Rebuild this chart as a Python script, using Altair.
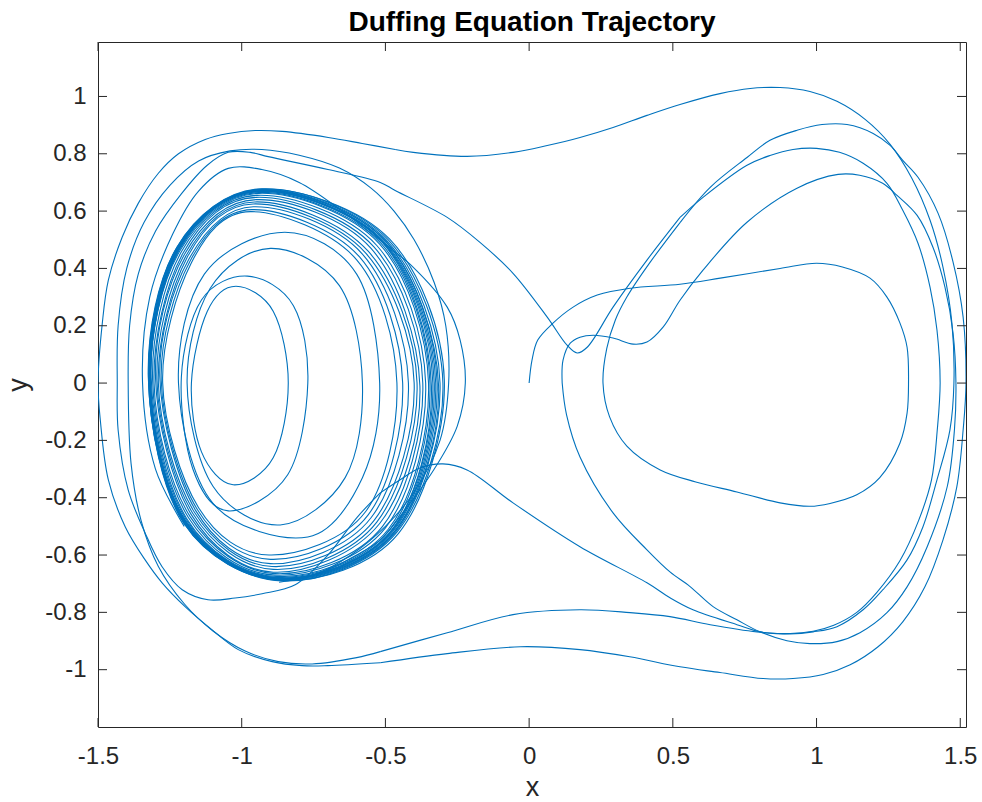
import altair as alt
import pandas as pd

# ---------------------------------------------------------------- data
# Open stretches of the trajectory (x, y=dx/dt), listed in time order.
start_right = [
    (0.0, 0.0), (0.01, 0.08), (0.03, 0.15), (0.083, 0.209), (0.153, 0.265), (0.237, 0.307),
    (0.351, 0.331), (0.525, 0.345), (0.665, 0.366), (0.873, 0.40), (1.0, 0.418), (1.09, 0.405),
    (1.186, 0.366), (1.245, 0.30), (1.29, 0.21), (1.315, 0.125), (1.32, 0.0), (1.315, -0.105),
    (1.29, -0.21), (1.22, -0.33), (1.14, -0.39), (1.047, -0.42), (0.977, -0.43), (0.873, -0.418),
    (0.723, -0.38), (0.58, -0.345), (0.456, -0.303), (0.34, -0.22), (0.28, -0.118), (0.257, 0.0),
    (0.27, 0.12), (0.3, 0.22), (0.34, 0.3), (0.42, 0.42), (0.525, 0.56),
]
right_over_1 = [
    (0.525, 0.56), (0.63, 0.683), (0.758, 0.787), (0.838, 0.847), (0.932, 0.882), (1.019, 0.902),
    (1.106, 0.902), (1.197, 0.871), (1.256, 0.829), (1.30, 0.777), (1.353, 0.718), (1.423, 0.592),
    (1.475, 0.422), (1.51, 0.23), (1.52, 0.0), (1.51, -0.164), (1.488, -0.362), (1.44, -0.547),
    (1.377, -0.711), (1.30, -0.833), (1.214, -0.92), (1.117, -0.983), (1.023, -1.017),
    (0.918, -1.031), (0.814, -1.031), (0.664, -1.01), (0.525, -0.99), (0.35, -0.955),
    (0.177, -0.93), (-0.03, -0.92), (-0.285, -0.944), (-0.518, -0.976),
]
left_over_1 = [
    (-0.518, -0.976), (-0.7, -0.986), (-0.79, -0.986), (-0.894, -0.972), (-1.012, -0.93),
    (-1.103, -0.861), (-1.197, -0.78), (-1.277, -0.697), (-1.336, -0.617), (-1.405, -0.502),
    (-1.464, -0.338), (-1.492, -0.129), (-1.5, 0.0), (-1.485, 0.209), (-1.464, 0.359),
    (-1.416, 0.509), (-1.36, 0.627), (-1.29, 0.732), (-1.22, 0.80), (-1.127, 0.85),
    (-1.047, 0.871), (-0.953, 0.881), (-0.859, 0.878), (-0.699, 0.857), (-0.581, 0.836),
    (-0.466, 0.815),
]
top_cross = [
    (-0.466, 0.815), (-0.403, 0.805), (-0.216, 0.791), (-0.056, 0.805), (0.063, 0.829),
    (0.177, 0.857), (0.292, 0.892), (0.41, 0.934), (0.525, 0.972), (0.664, 1.01), (0.769, 1.028),
    (0.873, 1.031), (0.977, 1.017), (1.071, 0.983), (1.169, 0.92), (1.256, 0.833), (1.332, 0.714),
    (1.395, 0.568), (1.44, 0.404), (1.471, 0.209), (1.478, 0.0), (1.464, -0.164), (1.419, -0.338),
    (1.37, -0.502), (1.315, -0.617), (1.231, -0.721), (1.162, -0.791), (1.071, -0.85),
    (0.988, -0.868), (0.908, -0.875), (0.793, -0.868), (0.63, -0.843), (0.49, -0.815),
    (0.351, -0.801), (0.177, -0.791), (-0.056, -0.808), (-0.285, -0.871), (-0.518, -0.937),
]
left_over_2 = [
    (-0.518, -0.937), (-0.6, -0.958), (-0.755, -0.98), (-0.873, -0.972), (-0.988, -0.935),
    (-1.1, -0.865), (-1.2, -0.77), (-1.29, -0.64), (-1.35, -0.48), (-1.385, -0.28), (-1.395, 0.0),
    (-1.39, 0.2), (-1.36, 0.38), (-1.3, 0.53), (-1.21, 0.66), (-1.12, 0.76), (-1.047, 0.805),
    (-0.97, 0.805), (-0.908, 0.79), (-0.7, 0.745), (-0.518, 0.70), (-0.466, 0.672),
    (-0.285, 0.578), (-0.17, 0.49), (-0.056, 0.383), (0.063, 0.23), (0.132, 0.132),
    (0.167, 0.105), (0.202, 0.125), (0.292, 0.265), (0.41, 0.429), (0.525, 0.578),
]
right_over_2 = [
    (0.525, 0.578), (0.605, 0.648), (0.758, 0.76), (0.838, 0.794), (0.918, 0.815), (1.0, 0.819),
    (1.08, 0.805), (1.162, 0.767), (1.245, 0.697), (1.30, 0.603), (1.353, 0.488), (1.395, 0.334),
    (1.419, 0.185), (1.43, 0.0), (1.42, -0.164), (1.4, -0.338), (1.355, -0.48), (1.29, -0.62),
    (1.21, -0.73), (1.14, -0.8), (1.06, -0.845), (0.988, -0.866), (0.908, -0.874),
    (0.803, -0.868), (0.723, -0.843), (0.57, -0.791), (0.49, -0.749), (0.41, -0.697),
    (0.177, -0.571), (-0.056, -0.418), (-0.216, -0.303), (-0.3, -0.282), (-0.38, -0.296),
    (-0.45, -0.338), (-0.518, -0.383),
]
left_over_3 = [
    (-0.518, -0.383), (-0.6, -0.47), (-0.7, -0.6), (-0.814, -0.704), (-0.929, -0.735),
    (-1.023, -0.75), (-1.117, -0.756), (-1.207, -0.721), (-1.277, -0.641), (-1.336, -0.523),
    (-1.395, -0.373), (-1.43, -0.164), (-1.433, 0.0), (-1.43, 0.2), (-1.4, 0.4), (-1.34, 0.56),
    (-1.25, 0.69), (-1.15, 0.775), (-1.04, 0.81), (-0.93, 0.815), (-0.8, 0.795), (-0.66, 0.75),
    (-0.55, 0.68), (-0.47, 0.6), (-0.4, 0.5), (-0.33, 0.35), (-0.29, 0.2), (-0.28, 0.0),
    (-0.31, -0.2), (-0.4, -0.38), (-0.5, -0.5), (-0.62, -0.6), (-0.75, -0.67), (-0.87, -0.695),
]
left_over_4 = [
    (-1.2, -0.5), (-1.3, -0.3), (-1.345, 0.0), (-1.32, 0.3), (-1.24, 0.52), (-1.15, 0.67),
    (-1.047, 0.749), (-0.93, 0.745), (-0.8, 0.7), (-0.65, 0.6), (-0.518, 0.498), (-0.403, 0.404),
    (-0.285, 0.265), (-0.24, 0.15), (-0.222, 0.0), (-0.25, -0.15), (-0.33, -0.3), (-0.43, -0.44),
    (-0.518, -0.547), (-0.6, -0.6), (-0.72, -0.66), (-0.85, -0.69),
]
right_inner = [
    (0.115, 0.0), (0.118, 0.08), (0.143, 0.139), (0.177, 0.16), (0.223, 0.167), (0.292, 0.157),
    (0.362, 0.136), (0.41, 0.143), (0.466, 0.195), (0.525, 0.289), (0.605, 0.394), (0.758, 0.561),
    (0.932, 0.68), (1.075, 0.728), (1.15, 0.725), (1.23, 0.697), (1.28, 0.655), (1.35, 0.585),
    (1.405, 0.474), (1.447, 0.334), (1.475, 0.174), (1.485, 0.0), (1.48, -0.16), (1.455, -0.36),
    (1.385, -0.571), (1.315, -0.711), (1.245, -0.801), (1.151, -0.871), (1.071, -0.902),
    (0.977, -0.909), (0.897, -0.899), (0.803, -0.868), (0.723, -0.826), (0.64, -0.78),
    (0.56, -0.71), (0.49, -0.659), (0.41, -0.582), (0.292, -0.453), (0.177, -0.258),
    (0.13, -0.11), (0.115, 0.0),
]

# Laps around the left well: left, upper-left, top, upper-right,
# right, lower-right, bottom, lower-left.
inner_lap_1 = [(-1.175, 0.0), (-1.12, 0.25), (-1.02, 0.338), (-0.89, 0.25),
               (-0.838, 0.0), (-0.89, -0.26), (-1.03, -0.355), (-1.14, -0.24)]
inner_lap_2 = [(-1.21, 0.02), (-1.14, 0.29), (-0.98, 0.373), (-0.82, 0.27),
               (-0.77, 0.0), (-0.84, -0.32), (-1.047, -0.446), (-1.17, -0.3)]
mid_lap_1 = [(-1.22, 0.0), (-1.13, 0.38), (-0.85, 0.526), (-0.6, 0.38),
             (-0.52, 0.0), (-0.58, -0.33), (-0.77, -0.537), (-1.1, -0.42)]
mid_lap_2 = [(-1.19, 0.0), (-1.11, 0.33), (-0.9, 0.47), (-0.66, 0.34),
             (-0.58, 0.0), (-0.64, -0.33), (-0.866, -0.495), (-1.1, -0.36)]
band_laps = [
    [(-1.325, 0.02), (-1.225, 0.475), (-0.93, 0.678), (-0.49, 0.5), (-0.30, 0.0), (-0.46, -0.52), (-0.86, -0.69), (-1.2, -0.49)],
    [(-1.324, 0.01), (-1.225, 0.474), (-0.928, 0.677), (-0.485, 0.502), (-0.295, 0.01), (-0.455, -0.525), (-0.862, -0.689), (-1.201, -0.49)],
    [(-1.323, 0.015), (-1.224, 0.472), (-0.932, 0.675), (-0.495, 0.497), (-0.31, 0.0), (-0.465, -0.52), (-0.865, -0.688), (-1.199, -0.488)],
    [(-1.323, 0.0), (-1.223, 0.471), (-0.934, 0.674), (-0.498, 0.494), (-0.315, -0.01), (-0.468, -0.518), (-0.868, -0.686), (-1.199, -0.486)],
    [(-1.322, 0.01), (-1.222, 0.47), (-0.935, 0.672), (-0.5, 0.495), (-0.32, 0.0), (-0.47, -0.52), (-0.87, -0.685), (-1.198, -0.485)],
    [(-1.321, 0.02), (-1.221, 0.469), (-0.936, 0.671), (-0.503, 0.492), (-0.325, 0.0), (-0.473, -0.517), (-0.871, -0.683), (-1.197, -0.483)],
    [(-1.32, 0.0), (-1.22, 0.47), (-0.935, 0.67), (-0.505, 0.49), (-0.33, 0.0), (-0.475, -0.515), (-0.872, -0.682), (-1.197, -0.482)],
    [(-1.319, 0.01), (-1.219, 0.469), (-0.938, 0.669), (-0.508, 0.49), (-0.335, 0.0), (-0.478, -0.515), (-0.874, -0.681), (-1.196, -0.481)],
    [(-1.318, 0.0), (-1.218, 0.468), (-0.94, 0.668), (-0.51, 0.49), (-0.34, -0.01), (-0.48, -0.515), (-0.875, -0.68), (-1.195, -0.48)],
    [(-1.317, 0.01), (-1.217, 0.465), (-0.94, 0.665), (-0.515, 0.487), (-0.345, 0.0), (-0.485, -0.512), (-0.878, -0.678), (-1.192, -0.478)],
    [(-1.315, 0.02), (-1.215, 0.462), (-0.94, 0.662), (-0.52, 0.485), (-0.35, 0.0), (-0.49, -0.51), (-0.88, -0.675), (-1.19, -0.475)],
    [(-1.31, 0.01), (-1.21, 0.458), (-0.945, 0.655), (-0.53, 0.48), (-0.36, 0.0), (-0.5, -0.505), (-0.885, -0.67), (-1.185, -0.47)],
    [(-1.305, 0.0), (-1.205, 0.452), (-0.95, 0.648), (-0.54, 0.475), (-0.37, 0.0), (-0.51, -0.5), (-0.885, -0.665), (-1.18, -0.465)],
    [(-1.30, 0.02), (-1.2, 0.448), (-0.95, 0.64), (-0.55, 0.47), (-0.38, -0.01), (-0.52, -0.49), (-0.89, -0.66), (-1.175, -0.46)],
    [(-1.295, 0.01), (-1.195, 0.442), (-0.955, 0.632), (-0.56, 0.46), (-0.39, 0.0), (-0.53, -0.485), (-0.89, -0.65), (-1.17, -0.455)],
    [(-1.29, 0.0), (-1.19, 0.438), (-0.96, 0.625), (-0.57, 0.455), (-0.4, 0.0), (-0.54, -0.48), (-0.895, -0.64), (-1.165, -0.45)],
    [(-1.285, 0.02), (-1.185, 0.43), (-0.96, 0.615), (-0.58, 0.45), (-0.42, 0.0), (-0.55, -0.47), (-0.9, -0.63), (-1.16, -0.445)],
    [(-1.28, 0.01), (-1.18, 0.425), (-0.965, 0.605), (-0.59, 0.44), (-0.44, 0.0), (-0.56, -0.46), (-0.9, -0.615), (-1.155, -0.44)],
    [(-1.275, 0.0), (-1.175, 0.42), (-0.97, 0.598), (-0.6, 0.43), (-0.46, 0.0), (-0.57, -0.45), (-0.905, -0.6), (-1.15, -0.435)],
]

x_ticks = [-1.5, -1, -0.5, 0, 0.5, 1, 1.5]
y_ticks = [-1, -0.8, -0.6, -0.4, -0.2, 0, 0.2, 0.4, 0.6, 0.8, 1]

open_paths = {
    "start_right": start_right, "right_over_1": right_over_1, "left_over_1": left_over_1,
    "top_cross": top_cross, "left_over_2": left_over_2, "right_over_2": right_over_2,
    "left_over_3": left_over_3, "left_over_4": left_over_4, "right_inner": right_inner,
}
closed_laps = {"inner_1": inner_lap_1, "inner_2": inner_lap_2, "mid_1": mid_lap_1, "mid_2": mid_lap_2}
for k, lap in enumerate(band_laps):
    closed_laps[f"band_{k}"] = lap


def to_frame(paths):
    rows = []
    for name, pts in paths.items():
        for i, (x, y) in enumerate(pts):
            rows.append({"seg": name, "i": i, "x": x, "y": y})
    return pd.DataFrame(rows)


open_df = to_frame(open_paths)
laps_df = to_frame(closed_laps)
xtick_df = pd.DataFrame({"x": x_ticks})
ytick_df = pd.DataFrame({"y": y_ticks})

# ---------------------------------------------------------------- style
W, H = 868, 685
TICK = 9
BLUE = "#0072BD"
INK = "#262626"
FONT = "Liberation Sans"

xs = alt.Scale(domain=[-1.5, 1.52], nice=False, zero=False)
ys = alt.Scale(domain=[-1.2, 1.19], nice=False, zero=False)

x_axis = alt.Axis(
    values=x_ticks, labelExpr="'' + datum.value", ticks=False, domain=False, grid=False,
    labelFont=FONT, labelFontSize=24, labelColor=INK, labelPadding=17, labelFlush=False,
    labelOverlap=False, title="x", titleFont=FONT, titleFontSize=27, titleFontWeight="normal",
    titleColor=INK, titleY=68, titleBaseline="alphabetic",
)
y_axis = alt.Axis(
    values=y_ticks, labelExpr="'' + datum.value", ticks=False, domain=False, grid=False,
    labelFont=FONT, labelFontSize=24, labelColor=INK, labelPadding=12, labelFlush=False,
    labelOverlap=False, title="y", titleFont=FONT, titleFontSize=27, titleFontWeight="normal",
    titleColor=INK, titleX=-72, titleBaseline="alphabetic",
)

paths = alt.Chart(open_df).mark_line(
    interpolate="catmull-rom", color=BLUE, strokeWidth=1.1, clip=True
).encode(
    x=alt.X("x:Q", scale=xs, axis=x_axis),
    y=alt.Y("y:Q", scale=ys, axis=y_axis),
    detail="seg:N",
    order="i:Q",
)

laps = alt.Chart(laps_df).mark_line(
    interpolate="cardinal-closed", color=BLUE, strokeWidth=1.1, clip=True
).encode(
    x=alt.X("x:Q", scale=xs),
    y=alt.Y("y:Q", scale=ys),
    detail="seg:N",
    order="i:Q",
)

# inward tick marks on all four sides of the box
tick_style = dict(color=INK, strokeWidth=1)
bottom_ticks = alt.Chart(xtick_df).mark_rule(**tick_style).encode(
    x=alt.X("x:Q", scale=xs), y=alt.value(H), y2=alt.value(H - TICK))
top_ticks = alt.Chart(xtick_df).mark_rule(**tick_style).encode(
    x=alt.X("x:Q", scale=xs), y=alt.value(0), y2=alt.value(TICK))
left_ticks = alt.Chart(ytick_df).mark_rule(**tick_style).encode(
    y=alt.Y("y:Q", scale=ys), x=alt.value(0), x2=alt.value(TICK))
right_ticks = alt.Chart(ytick_df).mark_rule(**tick_style).encode(
    y=alt.Y("y:Q", scale=ys), x=alt.value(W), x2=alt.value(W - TICK))

chart = alt.layer(
    paths, laps, bottom_ticks, top_ticks, left_ticks, right_ticks
).properties(
    width=W,
    height=H,
    title=alt.TitleParams(
        "Duffing Equation Trajectory", font=FONT, fontSize=28, fontWeight="bold",
        color="#000000", anchor="middle", baseline="alphabetic", offset=11, dy=28,
        frame="group",
    ),
    autosize=alt.AutoSizeParams(type="none"),
    padding={"left": 98, "top": 42, "right": 16, "bottom": 75},
    background="white",
).configure_view(stroke=INK, strokeWidth=1)

chart.save("out.html", embed_options={"renderer": "svg", "actions": False})
